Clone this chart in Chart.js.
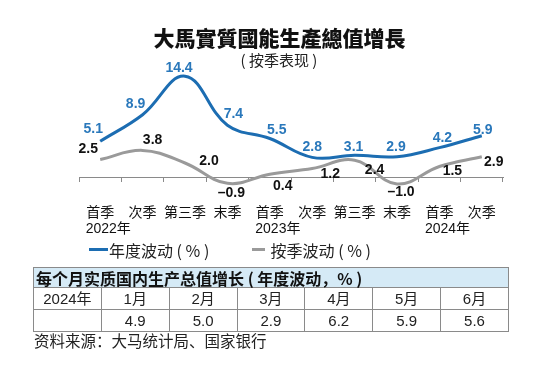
<!DOCTYPE html>
<html><head><meta charset="utf-8">
<script src="https://cdn.jsdelivr.net/npm/chart.js@4.4.1/dist/chart.umd.min.js"></script>
<style>
html,body{margin:0;padding:0;background:#fff;width:540px;height:369px;overflow:hidden;}
body{position:relative;font-family:"Liberation Sans","Noto Sans CJK SC",sans-serif;color:#111;}
#c{position:absolute;left:0;top:0;}
.t{position:absolute;white-space:nowrap;}
#title{left:0;width:559px;top:27px;text-align:center;font-family:"Noto Sans CJK TC";font-weight:900;font-size:21px;line-height:21px;color:#111;}
#sub{left:0;width:558px;top:52px;text-align:center;font-family:"Noto Sans CJK SC";font-size:15px;line-height:16px;color:#222;}
.lg{font-family:"Noto Sans CJK SC";font-size:16px;line-height:16px;top:242px;color:#222;}
.ln{position:absolute;height:3px;}
#tbl{position:absolute;left:33px;top:267px;width:476px;border-collapse:collapse;table-layout:fixed;}
#tbl td{border:1px solid #8a8a8a;padding:0;text-align:center;font-family:"Liberation Sans","Noto Sans CJK SC",sans-serif;font-size:15px;color:#222;height:21px;line-height:18px;}
#tbl td.h{background:#d5eaf6;text-align:left;padding-left:2px;font-family:"Noto Sans CJK SC";font-weight:600;font-size:16px;color:#111;height:19px;line-height:18px;}
#src{left:34px;top:331px;font-family:"Noto Sans CJK SC";font-size:15.5px;line-height:18px;color:#222;}
</style></head>
<body>
<canvas id="c" width="540" height="369"></canvas>
<div class="t" id="title">大馬實質國能生產總值增長</div>
<div class="t" id="sub">(&nbsp;按季表现&nbsp;)</div>
<div class="ln" style="left:89px;top:248px;width:19px;background:#1c6db2;"></div>
<div class="t lg" style="left:109px;">年度波动&nbsp;(&nbsp;%&nbsp;)</div>
<div class="ln" style="left:252px;top:248px;width:13px;background:#9a9a9a;"></div>
<div class="t lg" style="left:267px;">&nbsp;按季波动&nbsp;(&nbsp;%&nbsp;)</div>
<table id="tbl">
<tr><td class="h" colspan="7">每个月实质国内生产总值增长&nbsp;(&nbsp;年度波动，%&nbsp;)</td></tr>
<tr id="r1"></tr>
<tr id="r2"></tr>
</table>
<div class="t" id="src">资料来源：大马统计局、国家银行</div>
<script>
// ---- data ----
const quarters = ['首季','次季','第三季','末季','首季','次季','第三季','末季','首季','次季'];
const years = ['2022年','','','','2023年','','','','2024年',''];
const yoy = [5.1, 8.9, 14.4, 7.4, 5.5, 2.8, 3.1, 2.9, 4.2, 5.9];
const qoq = [2.5, 3.8, 2.0, -0.9, 0.4, 1.2, 2.4, -1.0, 1.5, 2.9];
const monthYear = '2024年';
const months = ['1月','2月','3月','4月','5月','6月'];
const monthly = [4.9, 5.0, 2.9, 6.2, 5.9, 5.6];

// ---- table ----
const r1 = document.getElementById('r1'), r2 = document.getElementById('r2');
r1.innerHTML = '<td>' + monthYear + '</td>' + months.map(m => '<td>' + m + '</td>').join('');
r2.innerHTML = '<td></td>' + monthly.map(v => '<td>' + v.toFixed(1) + '</td>').join('');

// ---- label style offsets (dx, dy) ----
const labelOffsets = [
  [[-7,-12],[-7,-11],[-6,-8],[6,-11],[7,-8],[0,-10],[-1,-8],[-1,-10],[3,-9],[1,-6]],
  [[-12,-10],[10,-10],[24,-2],[4,10],[13,12],[18,6],[20,10],[4,8],[13,5],[12,5]]
];
const labelColors = ['#2a78bb', '#111111'];

const valueLabels = {
  id: 'valueLabels',
  afterDatasetsDraw(chart) {
    const ctx = chart.ctx;
    chart.data.datasets.forEach((ds, di) => {
      const meta = chart.getDatasetMeta(di);
      ctx.save();
      ctx.font = 'bold 14px "Liberation Sans", Arial, sans-serif';
      ctx.fillStyle = labelColors[di];
      ctx.textAlign = 'center';
      ctx.textBaseline = 'middle';
      meta.data.forEach((pt, i) => {
        const v = ds.data[i];
        const txt = (v < 0 ? '\u2013' : '') + Math.abs(v).toFixed(1);
        ctx.fillText(txt, pt.x + labelOffsets[di][i][0], pt.y + labelOffsets[di][i][1]);
      });
      ctx.restore();
    });
  }
};

const tickFont = { family: '"Liberation Sans", "Noto Sans CJK SC", sans-serif', size: 14, lineHeight: 1.2 };

new Chart(document.getElementById('c'), {
  type: 'line',
  data: {
    labels: quarters,
    datasets: [
      { data: yoy, borderColor: '#1c6db2', borderWidth: 3, tension: 0.4, pointRadius: 0, fill: false },
      { data: qoq, borderColor: '#9a9a9a', borderWidth: 3, tension: 0.4, pointRadius: 0, fill: false }
    ]
  },
  options: {
    responsive: false,
    animation: false,
    devicePixelRatio: 1,
    events: [],
    layout: { padding: { left: 79, right: 37, top: 65, bottom: 171 } },
    plugins: { legend: { display: false }, tooltip: { enabled: false }, title: { display: false } },
    scales: {
      y: { display: false, min: -3, max: 16 },
      x: {
        axis: 'x',
        position: { y: 0 },
        offset: true,
        grid: { offset: true, drawOnChartArea: false, tickLength: 4, tickColor: '#8a8a8a', color: '#8a8a8a' },
        border: { color: '#8a8a8a', width: 1 },
        ticks: { padding: 24, font: tickFont, color: '#111', maxRotation: 0, minRotation: 0, autoSkip: false }
      },
      x2: {
        axis: 'x',
        type: 'category',
        labels: years,
        position: { y: 0 },
        offset: true,
        grid: { display: false, drawTicks: false, tickLength: 0 },
        border: { display: false },
        ticks: { padding: 44, align: 'start', labelOffset: -14.5, font: tickFont, color: '#111', maxRotation: 0, minRotation: 0, autoSkip: false }
      }
    }
  },
  plugins: [valueLabels]
});
</script>
</body></html>
